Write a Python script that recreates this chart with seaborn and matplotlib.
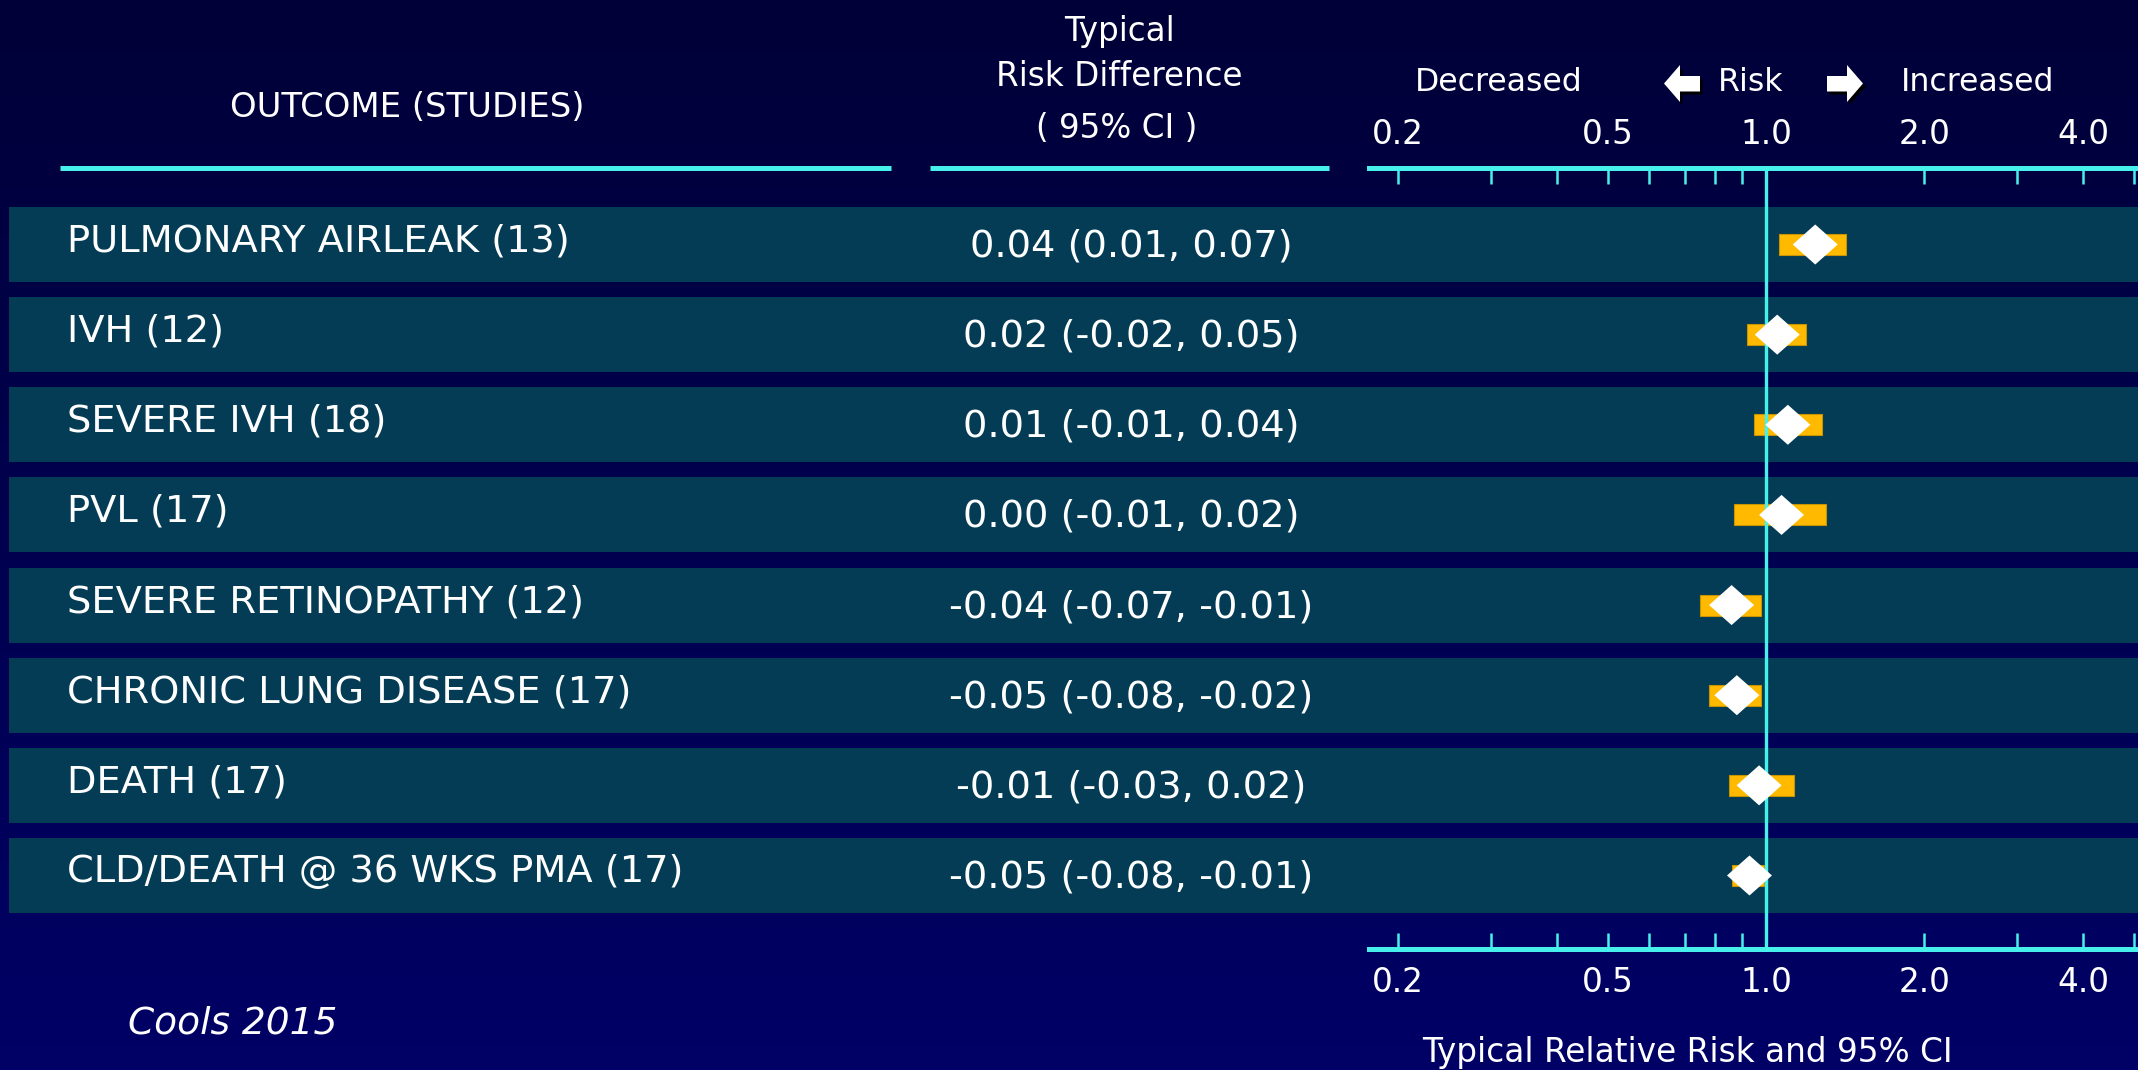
import numpy as np
import matplotlib
matplotlib.use("Agg")
import matplotlib.pyplot as plt
import pandas as pd
import seaborn as sns
from matplotlib.patches import Rectangle, Polygon
from matplotlib.path import Path
from matplotlib.markers import MarkerStyle
from matplotlib.colors import LinearSegmentedColormap
from matplotlib.ticker import FixedLocator, FixedFormatter, NullFormatter

# ---- data -------------------------------------------------------------
outcomes = [
    "PULMONARY AIRLEAK (13)",
    "IVH (12)",
    "SEVERE IVH (18)",
    "PVL (17)",
    "SEVERE RETINOPATHY (12)",
    "CHRONIC LUNG DISEASE (17)",
    "DEATH (17)",
    "CLD/DEATH @ 36 WKS PMA (17)",
]
# typical risk difference and its 95% CI
rd = [0.04, 0.02, 0.01, 0.00, -0.04, -0.05, -0.01, -0.05]
rd_lo = [0.01, -0.02, -0.01, -0.01, -0.07, -0.08, -0.03, -0.08]
rd_hi = [0.07, 0.05, 0.04, 0.02, -0.01, -0.02, 0.02, -0.01]
# typical relative risk and its 95% CI
rr = [1.24, 1.05, 1.10, 1.07, 0.86, 0.88, 0.97, 0.93]
rr_lo = [1.06, 0.92, 0.95, 0.87, 0.75, 0.78, 0.85, 0.86]
rr_hi = [1.42, 1.19, 1.28, 1.30, 0.98, 0.98, 1.13, 0.99]

label_ticks = [0.2, 0.5, 1.0, 2.0, 4.0]
tick_labels = ["0.2", "0.5", "1.0", "2.0", "4.0"]
minor_ticks = [0.2, 0.3, 0.4, 0.5, 0.6, 0.7, 0.8, 0.9, 2.0, 3.0, 4.0, 5.0]

# ---- style ------------------------------------------------------------
CYAN = "#48F0EC"
BAND = "#033C54"
ORANGE = "#FFBA00"
ORANGE_EDGE = "#C99300"
WHITE = "white"

sns.set_theme(style="white")
plt.rcParams["font.family"] = ["DejaVu Sans"]

W, H, DPI = 2138, 1070, 100
ROW0, PITCH, BAND_H = 244.5, 90.14, 75.0

fig = plt.figure(figsize=(W / DPI, H / DPI), dpi=DPI)

# background layer in pixel units
bg = fig.add_axes([0, 0, 1, 1])
grad = np.linspace(0, 1, 256)[:, None]
navy = LinearSegmentedColormap.from_list("navy", ["#000038", "#000066"])
bg.imshow(grad, cmap=navy, extent=[0, W, H, 0], aspect="auto", zorder=0)
bg.set_xlim(0, W)
bg.set_ylim(H, 0)
bg.set_autoscale_on(False)
bg.axis("off")

n = len(outcomes)
rows = np.arange(n)
centers = [ROW0 + PITCH * i for i in range(n)]

for c in centers:
    bg.add_patch(Rectangle((9, c - BAND_H / 2), W - 9, BAND_H,
                           facecolor=BAND, edgecolor="none", zorder=1))

# header underlines
bg.plot([60, 891], [168, 168], color=CYAN, lw=3.6, solid_capstyle="butt", zorder=2)
bg.plot([930, 1329], [168, 168], color=CYAN, lw=3.6, solid_capstyle="butt", zorder=2)

# headers
bg.text(407, 116.7, "OUTCOME (STUDIES)", color=WHITE, fontsize=24.4,
        ha="center", va="baseline")
bg.text(1119, 40.7, "Typical", color=WHITE, fontsize=23.5, ha="center", va="baseline")
bg.text(1119, 85.7, "Risk Difference", color=WHITE, fontsize=23.5,
        ha="center", va="baseline")
bg.text(1117, 138.3, "( 95% CI )", color=WHITE, fontsize=23.5,
        ha="center", va="baseline")
bg.text(1499, 90.7, "Decreased", color=WHITE, fontsize=22.7, ha="center", va="baseline")
bg.text(1751, 90.7, "Risk", color=WHITE, fontsize=22.7, ha="center", va="baseline")
bg.text(1978, 90.7, "Increased", color=WHITE, fontsize=22.7, ha="center", va="baseline")

# direction arrows with drop shadow
left_arrow = np.array([(1664, 83.5), (1680, 65), (1680, 76), (1700, 76),
                       (1700, 91.5), (1680, 91.5), (1680, 102)], dtype=float)
right_arrow = left_arrow.copy()
right_arrow[:, 0] = 3527 - right_arrow[:, 0]
for arr in (left_arrow, right_arrow):
    bg.add_patch(Polygon(arr + [2.5, 3], closed=True, facecolor="black",
                         edgecolor="none", zorder=2))
    bg.add_patch(Polygon(arr, closed=True, facecolor=WHITE,
                         edgecolor="none", zorder=3))

# row labels and risk-difference column
for i in range(n):
    c = centers[i]
    bg.text(67, c - 3, outcomes[i], color=WHITE, fontsize=27.6,
            ha="left", va="center", zorder=4)
    bg.text(1131, c + 2, f"{rd[i]:.2f} ({rd_lo[i]:.2f}, {rd_hi[i]:.2f})",
            color=WHITE, fontsize=27.6, ha="center", va="center", zorder=4)

bg.text(128, 1033.3, "Cools 2015", color=WHITE, fontsize=27, style="italic",
        ha="left", va="baseline")
bg.text(1687, 1062, "Typical Relative Risk and 95% CI", color=WHITE,
        fontsize=23.6, ha="center", va="baseline")

# ---- forest plot ------------------------------------------------------
L, R, T, B = 1369, 2138, 168, 949
ax = fig.add_axes([L / W, 1 - B / H, (R - L) / W, (B - T) / H])
ax.set_facecolor("none")
ax.set_xscale("log")

ax.barh(rows, np.array(rr_hi) - np.array(rr_lo), left=rr_lo, height=21 / PITCH,
        color=ORANGE, edgecolor=ORANGE_EDGE, linewidth=0.8, zorder=3)
ax.axvline(1.0, color=CYAN, lw=2.4, zorder=4)

diamond = MarkerStyle(Path([(-1.0, 0.0), (0.0, 0.89), (1.0, 0.0), (0.0, -0.89),
                            (-1.0, 0.0)], closed=True))
df = pd.DataFrame({"rr": rr, "row": rows})
sns.scatterplot(data=df, x="rr", y="row", marker=diamond, s=32.4 ** 2,
                color=WHITE, edgecolor="none", linewidth=0, legend=False,
                ax=ax, zorder=5)

ax.set_xlim(0.176, 5.09)
ax.set_ylim((B - ROW0) / PITCH, (T - ROW0) / PITCH)
ax.set_xlabel("")
ax.set_ylabel("")
ax.set_yticks([])
ax.grid(False)

for side in ("left", "right"):
    ax.spines[side].set_visible(False)
for side in ("top", "bottom"):
    ax.spines[side].set_color(CYAN)
    ax.spines[side].set_linewidth(3.6)

ax.xaxis.remove_overlapping_locs = False
ax.xaxis.set_major_locator(FixedLocator(label_ticks))
ax.xaxis.set_major_formatter(FixedFormatter(tick_labels))
ax.xaxis.set_minor_locator(FixedLocator(minor_ticks))
ax.xaxis.set_minor_formatter(NullFormatter())
ax.tick_params(axis="x", which="major", length=0, pad=12, labelsize=23.5,
               labelcolor=WHITE, top=True, labeltop=True,
               bottom=True, labelbottom=True)
ax.tick_params(axis="x", which="minor", direction="in", length=11.5, width=1.8,
               color=CYAN, top=True, bottom=True)

fig.savefig("out.png", dpi=DPI)
